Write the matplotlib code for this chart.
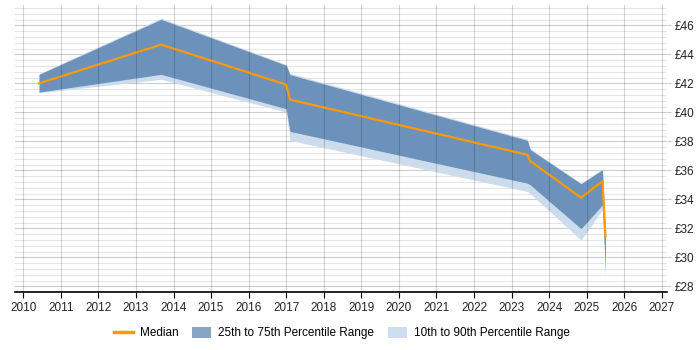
import matplotlib
matplotlib.use("Agg")
import matplotlib.pyplot as plt
from matplotlib.ticker import MultipleLocator, FuncFormatter
from matplotlib.lines import Line2D
from matplotlib.patches import Patch

plt.rcParams['font.family'] = ['Liberation Sans', 'DejaVu Sans']

# values (hourly rate, GBP)
years = [2010.42, 2013.67, 2017.0, 2017.1, 2023.42, 2023.5, 2024.85, 2025.42, 2025.5]
median = [42.0, 44.67, 41.91, 40.88, 37.08, 36.64, 34.12, 35.26, 31.45]
p25 = [41.4, 42.62, 40.25, 38.69, 35.12, 35.0, 31.98, 33.63, 29.0]
p75 = [42.62, 46.41, 43.24, 42.6, 38.07, 37.43, 35.08, 36.05, 31.5]
p10 = [41.35, 42.28, 40.02, 38.07, 34.55, 34.4, 31.2, 33.3, 28.7]
p90 = [42.66, 46.5, 43.3, 42.7, 38.15, 37.5, 35.12, 36.1, 31.6]

year_ticks = list(range(2010, 2028))

fig = plt.figure(figsize=(7, 3.5), dpi=100)
ax = fig.add_axes([15/700, 1 - 292.3/350, 651.7/700, 287.3/350])

# bands and median
ax.fill_between(years, p10, p90, color='#ccdcec', linewidth=0, zorder=2)
ax.fill_between(years, p25, p75, color='#6c92bb', linewidth=0, zorder=3)
# year lines drawn over the bands so they show faintly through them
for yr in year_ticks:
    ax.axvline(yr, color='#000000', alpha=0.17, linewidth=0.8, zorder=3.5)
ax.plot(years, median, color='#ff9900', linewidth=1.6, zorder=4)

ax.set_xlim(2009.78, 2027.13)
ax.set_ylim(27.6, 47.4)

# horizontal grid
ax.set_xticks(year_ticks)
ax.yaxis.set_major_locator(MultipleLocator(2))
ax.yaxis.set_minor_locator(MultipleLocator(0.4))
ax.grid(which='major', axis='y', color='#cccccc', linewidth=0.8, zorder=0)
ax.grid(which='minor', axis='y', color='#e6e6e6', linewidth=0.8, zorder=0)
ax.set_axisbelow(True)

for s in ['top', 'left', 'right']:
    ax.spines[s].set_visible(False)
ax.spines['bottom'].set_color('black')
ax.spines['bottom'].set_linewidth(1.2)

ax.yaxis.tick_right()
ax.yaxis.set_major_formatter(FuncFormatter(lambda v, p: '£%d' % v))
ax.tick_params(axis='y', which='major', length=3, color='#cccccc', pad=3,
               labelsize=8.5, labelcolor='#222222')
ax.tick_params(axis='y', which='minor', length=0)
ax.tick_params(axis='x', length=4, color='black', pad=3, labelsize=8.5,
               labelcolor='#222222')

# legend
handles = [
    Line2D([0], [0], color='#ff9900', linewidth=2.5),
    Patch(facecolor='#88a5c6', edgecolor='none'),
    Patch(facecolor='#cfdeee', edgecolor='none'),
]
labels = ['Median', '25th to 75th Percentile Range', '10th to 90th Percentile Range']
fig.legend(handles, labels, loc='center', bbox_to_anchor=(342/700, 1 - 333/350),
           ncol=3, frameon=False, fontsize=8.5, handlelength=1.6,
           handleheight=1.1, columnspacing=1.2, handletextpad=0.6)

fig.savefig('out.png', dpi=100)
